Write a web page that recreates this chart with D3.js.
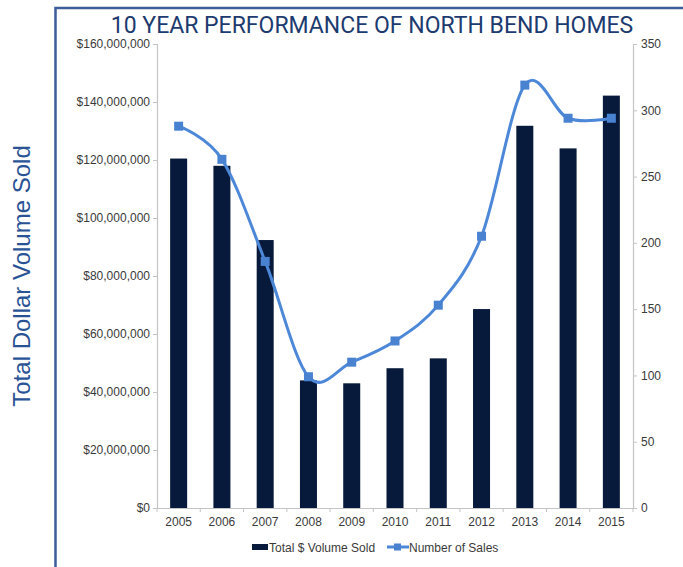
<!DOCTYPE html>
<html>
<head>
<meta charset="utf-8">
<script src="https://cdn.jsdelivr.net/npm/d3@7"></script>
<style>
  body { margin: 0; background: #fff; }
  svg { display: block; }
</style>
</head>
<body>
<svg id="chart" width="683" height="567"></svg>
<script>
// data
const years = ["2005", "2006", "2007", "2008", "2009", "2010", "2011", "2012", "2013", "2014", "2015"];
const volumeSold = [120500000, 118000000, 92400000, 44000000, 43000000, 48200000, 51600000, 68600000, 131800000, 124000000, 142200000];
const numberOfSales = [288, 263, 186, 99, 110, 126, 153, 205, 319, 294, 294];
const volumeTicks = [0, 20000000, 40000000, 60000000, 80000000, 100000000, 120000000, 140000000, 160000000];
const salesTicks = [0, 50, 100, 150, 200, 250, 300, 350];

const svg = d3.select("#chart");
const margin = {top: 44, right: 50, bottom: 59, left: 157};
const W = 683, H = 567;
const width = W - margin.left - margin.right,
      height = H - margin.top - margin.bottom;

const barColor = "#071a3b";
const lineColor = "#4d88d8";
const axisColor = "#c4c4c4";
const textColor = "#3a3a3a";
const font = "'Liberation Sans', Arial, sans-serif";

// frame
svg.append("path")
   .attr("d", `M55.5,567 V8 H683`)
   .attr("fill", "none")
   .attr("stroke", "#3d5d98")
   .attr("stroke-width", 2.5);

// title
svg.append("text")
   .attr("x", 372)
   .attr("y", 33)
   .attr("text-anchor", "middle")
   .attr("font-family", "Roboto, sans-serif")
   .attr("font-size", 23)
   .attr("fill", "#1d3b6f")
   .text("10 YEAR PERFORMANCE OF NORTH BEND HOMES");

// y title
svg.append("text")
   .attr("transform", "translate(30,276) rotate(-90)")
   .attr("text-anchor", "middle")
   .attr("font-family", font)
   .attr("font-size", 24)
   .attr("fill", "#2a5396")
   .text("Total Dollar Volume Sold");

const chart = svg.append("g")
                 .attr("transform", `translate(${margin.left},${margin.top})`);

const x = d3.scaleBand()
            .domain(years)
            .range([0, width])
            .padding(0);

const y = d3.scaleLinear()
            .domain([0, 160000000])
            .range([height, 0]);

const y2 = d3.scaleLinear()
             .domain([0, 350])
             .range([height, 0]);

// left axis
const leftAxis = chart.append("g")
     .call(d3.axisLeft(y).tickValues(volumeTicks).tickSize(4).tickPadding(3)
             .tickFormat(d => "$" + d3.format(",")(d)));

// right axis
const rightAxis = chart.append("g")
     .attr("transform", `translate(${width},0)`)
     .call(d3.axisRight(y2).tickValues(salesTicks).tickSize(4).tickPadding(4));

// bottom axis: labels in the middle of each band, ticks at the band edges
const bottomAxis = chart.append("g")
     .attr("transform", `translate(0,${height})`)
     .call(d3.axisBottom(x).tickSize(0).tickPadding(9));

const edges = years.map(d => x(d)).concat([width]);
bottomAxis.selectAll(".edge")
     .data(edges)
     .enter()
     .append("line")
     .attr("x1", d => d)
     .attr("x2", d => d)
     .attr("y1", 0)
     .attr("y2", 4)
     .attr("stroke", axisColor);

[leftAxis, rightAxis, bottomAxis].forEach(a => {
    a.select(".domain").attr("stroke", axisColor).attr("stroke-width", 1.2);
    a.selectAll(".tick line").attr("stroke", axisColor);
    a.selectAll("text")
     .attr("font-family", font)
     .attr("font-size", 12)
     .attr("fill", textColor);
});

// bars
const barW = 17;
chart.selectAll(".bar")
     .data(years)
     .enter()
     .append("rect")
     .attr("class", "bar")
     .attr("x", d => x(d) + x.bandwidth() / 2 - barW / 2)
     .attr("y", (d, i) => y(volumeSold[i]))
     .attr("width", barW)
     .attr("height", (d, i) => height - y(volumeSold[i]))
     .attr("fill", barColor);

// smoothed sales line
const pts = years.map((d, i) => [x(d) + x.bandwidth() / 2, y2(numberOfSales[i])]);
chart.append("path")
     .datum(pts)
     .attr("fill", "none")
     .attr("stroke", lineColor)
     .attr("stroke-width", 3)
     .attr("d", d3.line().curve(d3.curveCatmullRom.alpha(0)));

chart.selectAll(".marker")
     .data(pts)
     .enter()
     .append("rect")
     .attr("class", "marker")
     .attr("x", d => d[0] - 4.5)
     .attr("y", d => d[1] - 4.5)
     .attr("width", 9)
     .attr("height", 9)
     .attr("fill", "#4a82d2");

// legend
const legend = svg.append("g").attr("transform", "translate(252,547)");
legend.append("rect")
      .attr("x", 0).attr("y", -3)
      .attr("width", 16).attr("height", 6)
      .attr("fill", barColor);
legend.append("text")
      .attr("x", 17).attr("y", 4.5)
      .attr("font-family", font).attr("font-size", 12).attr("fill", textColor)
      .text("Total $ Volume Sold");
legend.append("line")
      .attr("x1", 135).attr("x2", 157)
      .attr("y1", 0).attr("y2", 0)
      .attr("stroke", lineColor).attr("stroke-width", 3);
legend.append("rect")
      .attr("x", 142).attr("y", -3.5)
      .attr("width", 7).attr("height", 7)
      .attr("fill", "#4a82d2");
legend.append("text")
      .attr("x", 157).attr("y", 4.5)
      .attr("font-family", font).attr("font-size", 12).attr("fill", textColor)
      .text("Number of Sales");
</script>
</body>
</html>
